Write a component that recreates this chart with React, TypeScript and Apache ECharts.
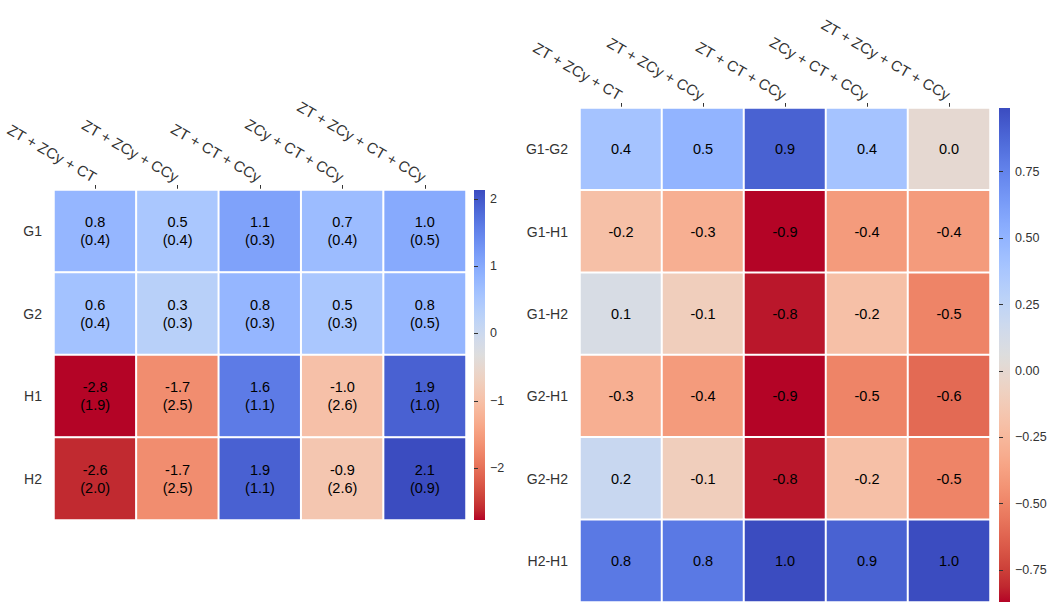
import React, { useEffect, useRef } from "react";
import * as echarts from "echarts";

// ---------- data ----------
const COLUMNS = ["ZT + ZCy + CT", "ZT + ZCy + CCy", "ZT + CT + CCy", "ZCy + CT + CCy", "ZT + ZCy + CT + CCy"];

const LEFT_ROWS = ["G1", "G2", "H1", "H2"];
const LEFT_MEAN = [
  [0.8, 0.5, 1.1, 0.7, 1.0],
  [0.6, 0.3, 0.8, 0.5, 0.8],
  [-2.77, -1.7, 1.6, -1.0, 1.9],
  [-2.6, -1.7, 1.9, -0.9, 2.13],
];
const LEFT_SD = [
  [0.4, 0.4, 0.3, 0.4, 0.5],
  [0.4, 0.3, 0.3, 0.3, 0.5],
  [1.9, 2.5, 1.1, 2.6, 1.0],
  [2.0, 2.5, 1.1, 2.6, 0.9],
];

const RIGHT_ROWS = ["G1-G2", "G1-H1", "G1-H2", "G2-H1", "G2-H2", "H2-H1"];
const RIGHT_VALUES = [
  [0.4, 0.5, 0.9, 0.4, 0.0],
  [-0.2, -0.3, -0.87, -0.4, -0.4],
  [0.1, -0.1, -0.84, -0.2, -0.5],
  [-0.3, -0.4, -0.87, -0.5, -0.6],
  [0.2, -0.1, -0.84, -0.2, -0.5],
  [0.8, 0.8, 0.99, 0.9, 0.99],
];

const LEFT_RANGE = [-2.77, 2.13];
const RIGHT_RANGE = [-0.87, 0.99];
const LEFT_TICKS = [-2, -1, 0, 1, 2];
const RIGHT_TICKS = [-0.75, -0.5, -0.25, 0, 0.25, 0.5, 0.75];

// ---------- colormap (coolwarm) ----------
const COOLWARM = [
  [59, 76, 192], [68, 90, 204], [77, 104, 215], [87, 117, 225], [98, 130, 234],
  [108, 142, 241], [119, 154, 247], [130, 165, 251], [141, 176, 254], [152, 185, 255],
  [163, 194, 255], [174, 201, 253], [184, 208, 249], [194, 213, 244], [204, 217, 238],
  [213, 219, 230], [221, 221, 221], [229, 216, 209], [236, 211, 197], [241, 204, 185],
  [245, 196, 173], [247, 187, 160], [247, 177, 148], [247, 166, 135], [244, 154, 123],
  [241, 141, 111], [236, 127, 99], [229, 112, 88], [222, 96, 77], [213, 80, 66],
  [203, 62, 56], [192, 40, 47], [180, 4, 38],
];
function coolwarm(t: number): string {
  const c = Math.max(0, Math.min(1, t)) * (COOLWARM.length - 1);
  const i = Math.min(COOLWARM.length - 2, Math.floor(c));
  const f = c - i;
  const a = COOLWARM[i];
  const b = COOLWARM[i + 1];
  const m = (k: number) => Math.round(a[k] + (b[k] - a[k]) * f);
  return `rgb(${m(0)},${m(1)},${m(2)})`;
}
const N = 65;
// coolwarm reversed: min value -> red, max value -> blue
const RAMP = Array.from({ length: N }, (_, i) => coolwarm(1 - i / (N - 1)));
const GRADIENT_STOPS = Array.from({ length: N }, (_, i) => ({ offset: i / (N - 1), color: coolwarm(i / (N - 1)) }));

// ---------- layout ----------
const FONT = "'Liberation Sans', Arial, sans-serif";
const LG = { left: 54, top: 190, width: 412, height: 330 };
const RG = { left: 580, top: 108, width: 410, height: 494 };
const LCB = { left: 474, top: 190, width: 11, height: 330 };
const RCB = { left: 999, top: 108, width: 11, height: 494 };

const fmtCb = (dec: number) => (v: number) => {
  const s = Math.abs(v).toFixed(dec);
  return v < 0 ? "\u2212" + s : s;
};

function catX(gridIndex: number) {
  return {
    gridIndex,
    type: "category",
    data: COLUMNS,
    position: "top",
    axisLine: { show: false },
    axisTick: { show: true, alignWithLabel: true, length: 5, lineStyle: { color: "#333", width: 1 } },
    axisLabel: { rotate: 30, interval: 0, fontSize: 15, color: "#333", margin: 12, fontFamily: FONT },
    splitLine: { show: false },
  };
}
function catY(gridIndex: number, rows: string[]) {
  return {
    gridIndex,
    type: "category",
    data: rows,
    inverse: true,
    axisLine: { show: false },
    axisTick: { show: false },
    axisLabel: { fontSize: 14, color: "#333", margin: 12, fontFamily: FONT },
    splitLine: { show: false },
  };
}
function cbY(gridIndex: number, range: number[], ticks: number[], dec: number) {
  return {
    gridIndex,
    type: "value",
    position: "right",
    min: range[0],
    max: range[1],
    axisLine: { show: false },
    splitLine: { show: false },
    axisTick: { show: true, length: 4, lineStyle: { color: "#333" }, customValues: ticks },
    axisLabel: { fontSize: 12.5, color: "#333", margin: 5, fontFamily: FONT, customValues: ticks, formatter: fmtCb(dec) },
  };
}

export default function App() {
  const ref = useRef<HTMLDivElement>(null);
  useEffect(() => {
    if (!ref.current) return;
    const chart = echarts.init(ref.current, undefined, { renderer: "svg" });

    const leftData: any[] = [];
    LEFT_ROWS.forEach((_, i) =>
      COLUMNS.forEach((__, j) => leftData.push([j, i, LEFT_MEAN[i][j], LEFT_SD[i][j]]))
    );
    const rightData: any[] = [];
    RIGHT_ROWS.forEach((_, i) => COLUMNS.forEach((__, j) => rightData.push([j, i, RIGHT_VALUES[i][j]])));

    const cellLabel = { show: true, color: "#000", fontSize: 14.5, lineHeight: 18, fontFamily: FONT };
    const g = (b: any) => ({ ...b, containLabel: false, outerBoundsMode: "none" });

    chart.setOption({
      animation: false,
      textStyle: { fontFamily: FONT },
      grid: [g(LG), g(RG), g(LCB), g(RCB)],
      xAxis: [
        catX(0),
        catX(1),
        { gridIndex: 2, type: "value", show: false, min: 0, max: 1 },
        { gridIndex: 3, type: "value", show: false, min: 0, max: 1 },
      ],
      yAxis: [
        catY(0, LEFT_ROWS),
        catY(1, RIGHT_ROWS),
        cbY(2, LEFT_RANGE, LEFT_TICKS, 0),
        cbY(3, RIGHT_RANGE, RIGHT_TICKS, 2),
      ],
      visualMap: [
        { show: false, seriesIndex: 0, dimension: 2, min: LEFT_RANGE[0], max: LEFT_RANGE[1], inRange: { color: RAMP } },
        { show: false, seriesIndex: 1, dimension: 2, min: RIGHT_RANGE[0], max: RIGHT_RANGE[1], inRange: { color: RAMP } },
      ],
      series: [
        {
          type: "heatmap",
          xAxisIndex: 0,
          yAxisIndex: 0,
          data: leftData,
          itemStyle: { borderColor: "#fff", borderWidth: 2 },
          emphasis: { disabled: true },
          label: {
            ...cellLabel,
            formatter: (p: any) => `${p.data[2].toFixed(1)}\n(${p.data[3].toFixed(1)})`,
          },
        },
        {
          type: "heatmap",
          xAxisIndex: 1,
          yAxisIndex: 1,
          data: rightData,
          itemStyle: { borderColor: "#fff", borderWidth: 2 },
          emphasis: { disabled: true },
          label: { ...cellLabel, formatter: (p: any) => p.data[2].toFixed(1) },
        },
      ],
      graphic: [
        {
          type: "rect",
          shape: { x: LCB.left, y: LCB.top, width: LCB.width, height: LCB.height },
          style: { fill: { type: "linear", x: 0, y: 0, x2: 0, y2: 1, colorStops: GRADIENT_STOPS } },
          z: -1,
        },
        {
          type: "rect",
          shape: { x: RCB.left, y: RCB.top, width: RCB.width, height: RCB.height },
          style: { fill: { type: "linear", x: 0, y: 0, x2: 0, y2: 1, colorStops: GRADIENT_STOPS } },
          z: -1,
        },
      ],
    });
    return () => chart.dispose();
  }, []);
  return (
    <div
      ref={ref}
      style={{ position: "fixed", left: 0, top: 0, width: 1052, height: 602, background: "#fff" }}
    />
  );
}
